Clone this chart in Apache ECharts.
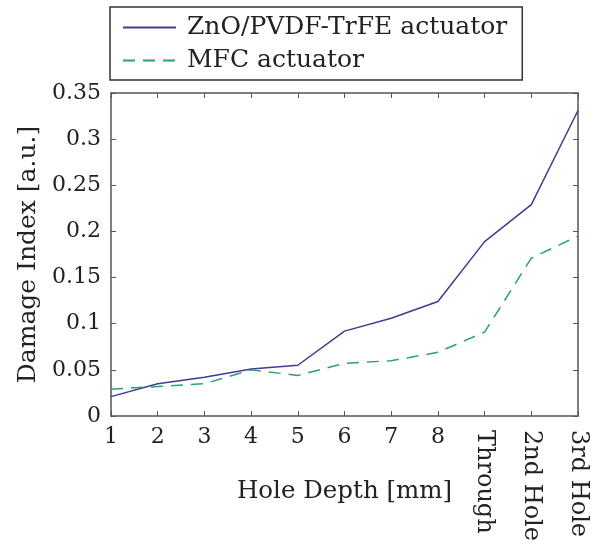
<!DOCTYPE html>
<html>
<head>
<meta charset="utf-8">
<script src="https://cdn.jsdelivr.net/npm/echarts@6/dist/echarts.min.js"></script>
<style>
    html, body {margin: 0; padding: 0; background: #fff;}
    #chart {width: 594px; height: 544px;}
</style>
</head>
<body>
<div id="chart"></div>
<script>
// values
const holeDepth = ['1', '2', '3', '4', '5', '6', '7', '8', 'Through', '2nd Hole', '3rd Hole'];
const znoPvdf = [0.021, 0.035, 0.042, 0.051, 0.055, 0.092, 0.106, 0.124, 0.189, 0.229, 0.331];
const mfc = [0.029, 0.032, 0.035, 0.050, 0.044, 0.057, 0.060, 0.069, 0.091, 0.171, 0.195];
const seriesNames = ['ZnO/PVDF-TrFE actuator', 'MFC actuator'];

const FONT = 'DejaVu Serif';
const AXIS_COLOR = '#555';
const numericCount = 8;

let myChart = echarts.init(document.getElementById('chart'));

const baseX = {
    type: 'category',
    data: holeDepth,
    boundaryGap: false,
    axisLine: {lineStyle: {color: AXIS_COLOR, width: 1.5}},
    axisTick: {inside: true, length: 5, lineStyle: {color: AXIS_COLOR}, interval: 0},
    splitLine: {show: false}
};

const baseY = {
    type: 'value',
    min: 0,
    max: 0.35,
    interval: 0.05,
    axisLine: {show: true, lineStyle: {color: AXIS_COLOR, width: 1.5}},
    axisTick: {show: true, inside: true, length: 5, lineStyle: {color: AXIS_COLOR}},
    splitLine: {show: false}
};

const option = {
    animation: false,
    grid: {left: 111, right: 16, top: 93, bottom: 127},
    legend: {
        orient: 'vertical',
        left: 110,
        top: 7,
        itemWidth: 53,
        itemHeight: 14,
        itemGap: 8,
        padding: [8, 15, 7, 12],
        borderColor: '#333',
        borderWidth: 1.5,
        itemStyle: {opacity: 0},
        textStyle: {fontFamily: FONT, fontSize: 25, color: '#222', padding: [0, 0, 0, 6]},
        data: seriesNames
    },
    xAxis: [
        Object.assign({}, baseX, {
            position: 'bottom',
            axisLabel: {
                interval: 0,
                margin: 10,
                fontFamily: FONT,
                fontSize: 22,
                color: '#222',
                formatter: function (v, i) {
                    return i < numericCount ? v : '';
                }
            },
            name: 'Hole Depth [mm]',
            nameLocation: 'middle',
            nameGap: 63,
            nameTextStyle: {fontFamily: FONT, fontSize: 24.5, color: '#222'}
        }),
        Object.assign({}, baseX, {
            position: 'bottom',
            axisLine: {show: false},
            axisTick: {show: false},
            axisLabel: {
                interval: 0,
                rotate: -90,
                margin: 14,
                fontFamily: FONT,
                fontSize: 24,
                color: '#222',
                formatter: function (v, i) {
                    return i >= numericCount ? v : '';
                }
            }
        }),
        Object.assign({}, baseX, {
            position: 'top',
            axisLabel: {show: false}
        })
    ],
    yAxis: [
        Object.assign({}, baseY, {
            position: 'left',
            axisLabel: {
                margin: 10,
                fontFamily: FONT,
                fontSize: 22,
                color: '#222',
                formatter: function (v) {
                    return String(+v.toFixed(2));
                }
            },
            name: 'Damage Index [a.u.]',
            nameLocation: 'middle',
            nameGap: 68,
            nameTextStyle: {fontFamily: FONT, fontSize: 25, color: '#222'}
        }),
        Object.assign({}, baseY, {
            position: 'right',
            axisLabel: {show: false}
        })
    ],
    series: [
        {
            name: seriesNames[0],
            type: 'line',
            data: znoPvdf,
            symbol: 'none',
            lineStyle: {color: '#3d3d8f', width: 1.5},
            itemStyle: {color: '#3d3d8f'}
        },
        {
            name: seriesNames[1],
            type: 'line',
            data: mfc,
            symbol: 'none',
            lineStyle: {color: '#2a9f78', width: 1.5, type: [12, 8]},
            itemStyle: {color: '#2a9f78'}
        }
    ]
};

myChart.setOption(option);
</script>
</body>
</html>
